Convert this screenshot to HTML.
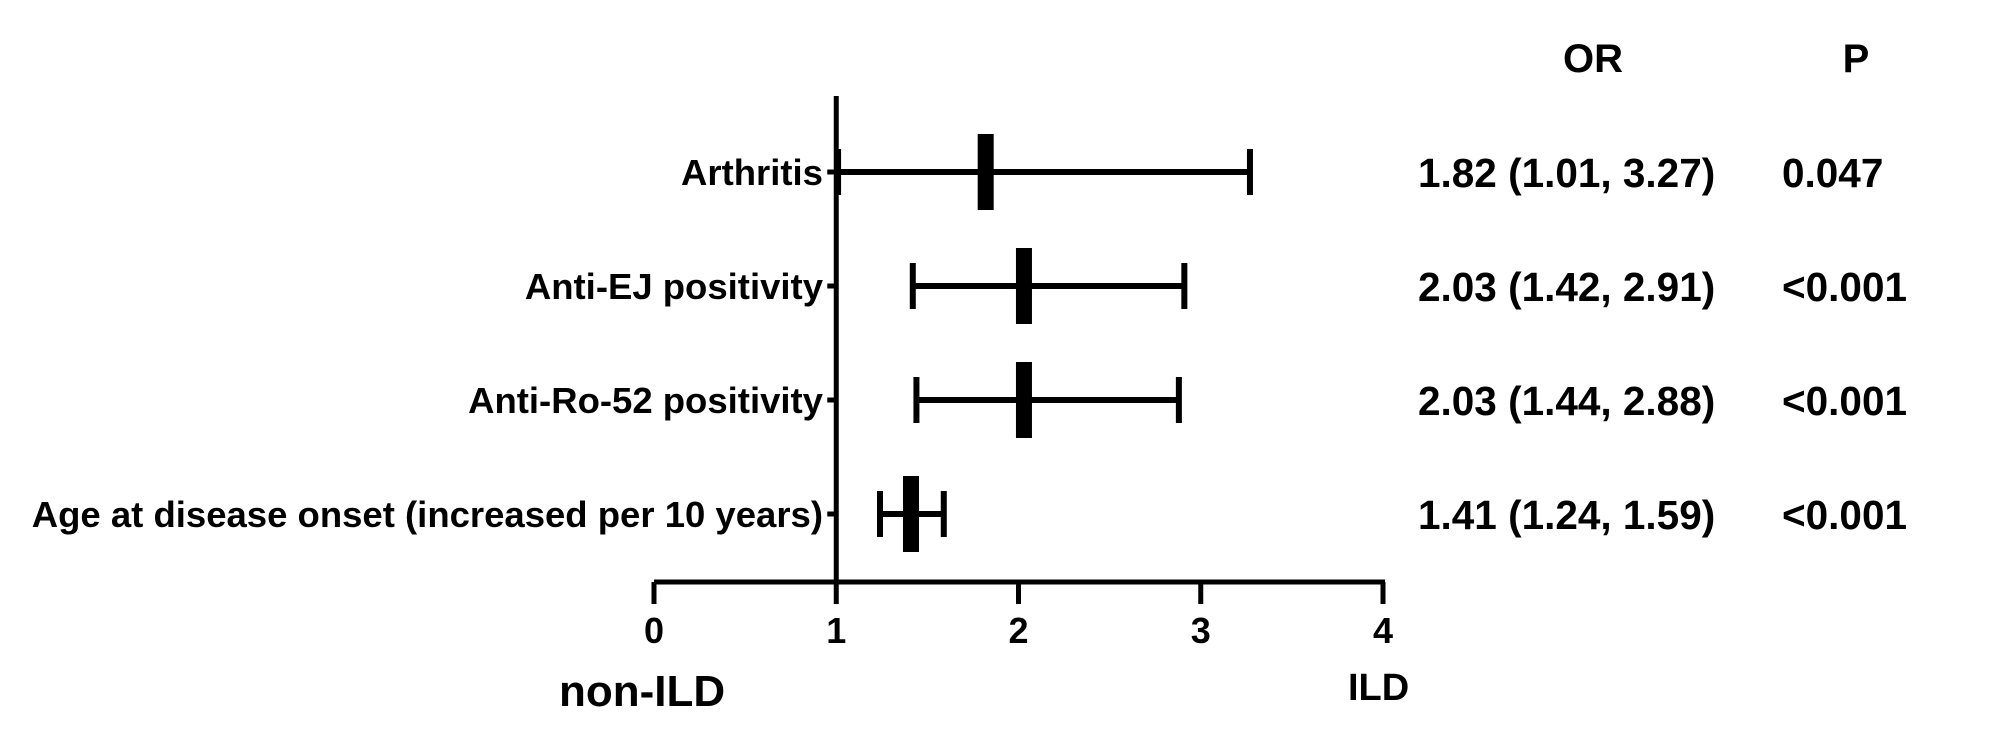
<!DOCTYPE html>
<html><head><meta charset="utf-8"><style>
html,body{margin:0;padding:0;background:#fff}
svg{display:block}
text{font-family:"Liberation Sans",Arial,sans-serif;font-weight:bold;fill:#000}
</style></head><body>
<svg id="chart" width="2000" height="749" viewBox="0 0 2000 749">
<g id="g"></g>
</svg>
<script>
const labels=["Arthritis","Anti-EJ positivity","Anti-Ro-52 positivity","Age at disease onset (increased per 10 years)"];
const orVals=[1.82,2.03,2.03,1.41];
const lowVals=[1.01,1.42,1.44,1.24];
const highVals=[3.27,2.91,2.88,1.59];
const orText=["1.82 (1.01, 3.27)","2.03 (1.42, 2.91)","2.03 (1.44, 2.88)","1.41 (1.24, 1.59)"];
const pText=["0.047","<0.001","<0.001","<0.001"];
const xTicks=[0,1,2,3,4];

const NS="http://www.w3.org/2000/svg";
const g=document.getElementById('g');
const x0=654,x4=1383;
const xs=v=>x0+(x4-x0)*v/4;
const rowY=i=>172+i*114;
const axisY=582;
function el(t,a,txt){const e=document.createElementNS(NS,t);for(const k in a)e.setAttribute(k,a[k]);if(txt!==undefined)e.textContent=txt;g.appendChild(e);return e;}

let e=el('line',{x1:x0,x2:x4+2,y1:axisY,y2:axisY,stroke:'#000','stroke-width':5});


e=el('line',{x1:xs(1),x2:xs(1),y1:96,y2:axisY,stroke:'#000','stroke-width':5});


xTicks.forEach(v=>{
  let t=el('line',{x1:xs(v),x2:xs(v),y1:axisY,y2:axisY+22,stroke:'#000','stroke-width':5});
  
  
  let l=el('text',{x:xs(v),y:643,'font-size':36,'text-anchor':'middle'},String(v));
  
  
});
labels.forEach((lab,i)=>{
  const y=rowY(i);
  let t=el('line',{x1:xs(1)-9,x2:xs(1),y1:y,y2:y,stroke:'#000','stroke-width':5});
  
  
  let l=el('text',{x:823,y:y+13,'font-size':36.5,'text-anchor':'end'},lab);
  
  
  let w=el('line',{x1:xs(lowVals[i]),x2:xs(highVals[i]),y1:y,y2:y,stroke:'#000','stroke-width':6});
  
  
  [lowVals[i],highVals[i]].forEach(v=>{
    let c=el('line',{x1:xs(v),x2:xs(v),y1:y-23,y2:y+23,stroke:'#000','stroke-width':6});
    
    
  });
  let m=el('rect',{x:xs(orVals[i])-8,y:y-38,width:16,height:76,fill:'#000'});
  
  
  let o=el('text',{x:1418,y:y+15,'font-size':40.5},orText[i]);
  
  
  let p=el('text',{x:1782,y:y+15,'font-size':40.5},pText[i]);
  
  
});
e=el('text',{x:1593,y:72,'font-size':40,'text-anchor':'middle'},'OR');


e=el('text',{x:1856,y:72,'font-size':40,'text-anchor':'middle'},'P');


e=el('text',{x:559,y:706,'font-size':44},'non-ILD');


e=el('text',{x:1348,y:700,'font-size':38},'ILD');


</script>
</body></html>
